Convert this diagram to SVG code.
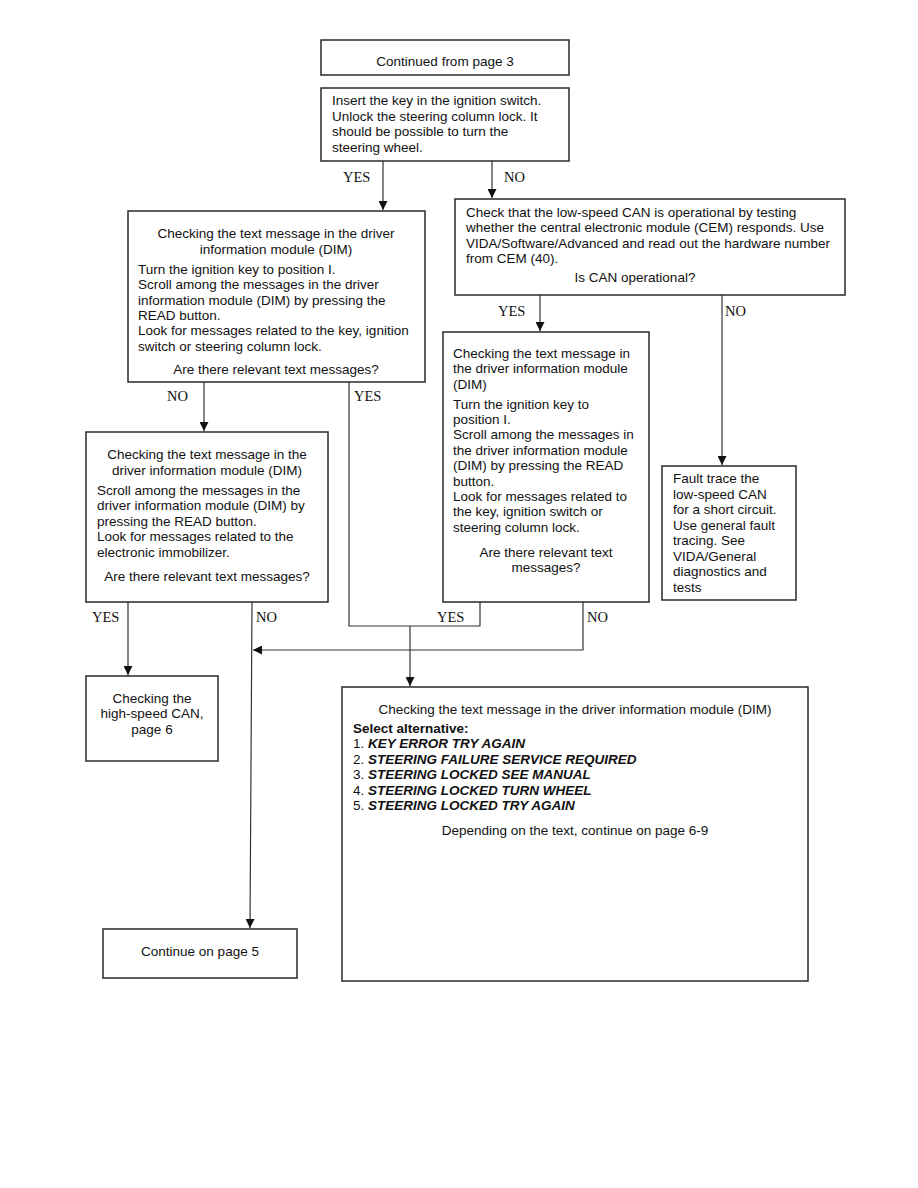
<svg xmlns="http://www.w3.org/2000/svg" width="918" height="1188" viewBox="0 0 918 1188">
<style>
.box{fill:#fff;stroke:#2a2a2a;stroke-width:1.5}
.t{font-family:"Liberation Sans",Arial,sans-serif;font-size:13.5px;fill:#111}
.c{text-anchor:middle}
.lb{font-family:"Liberation Serif","Times New Roman",serif;font-size:14.5px;fill:#111}
.ln{fill:none;stroke:#333;stroke-width:1.2}
.b{font-weight:bold}
.bi{font-weight:bold;font-style:italic}
</style>
<defs>
<marker id="ar" markerUnits="userSpaceOnUse" markerWidth="9" markerHeight="9" refX="9" refY="4.5" orient="auto">
<path d="M0,0 L9,4.5 L0,9 z" fill="#111"/>
</marker>
</defs>
<rect width="918" height="1188" fill="#fff"/>

<g id="connectors">
<line class="ln" x1="383" y1="161" x2="383" y2="210" marker-end="url(#ar)"/>
<line class="ln" x1="492" y1="161" x2="492" y2="198" marker-end="url(#ar)"/>
<line class="ln" x1="540" y1="295" x2="540" y2="331" marker-end="url(#ar)"/>
<line class="ln" x1="722" y1="295" x2="722" y2="465" marker-end="url(#ar)"/>
<line class="ln" x1="204" y1="382" x2="204" y2="431" marker-end="url(#ar)"/>
<polyline class="ln" points="349,382 349,626 480,626 480,602"/>
<line class="ln" x1="410" y1="626" x2="410" y2="686" marker-end="url(#ar)"/>
<polyline class="ln" points="583,602 583,650 253,650" marker-end="url(#ar)"/>
<line class="ln" x1="128" y1="602" x2="128" y2="675" marker-end="url(#ar)"/>
<line class="ln" x1="252" y1="602" x2="250" y2="928" marker-end="url(#ar)"/>
<text class="lb" x="343" y="182">YES</text>
<text class="lb" x="504" y="182">NO</text>
<text class="lb" x="498" y="316">YES</text>
<text class="lb" x="725" y="316">NO</text>
<text class="lb" x="167" y="401">NO</text>
<text class="lb" x="354" y="401">YES</text>
<text class="lb" x="92" y="622">YES</text>
<text class="lb" x="256" y="622">NO</text>
<text class="lb" x="437" y="622">YES</text>
<text class="lb" x="587" y="622">NO</text>
</g>

<g id="n1">
<rect class="box" x="321" y="40" width="248" height="35"/>
<text class="t c" x="445" y="66">Continued from page 3</text>
</g>

<g id="n2">
<rect class="box" x="321" y="88" width="248" height="73"/>
<text class="t" x="332" y="105">Insert the key in the ignition switch.</text>
<text class="t" x="332" y="120.5">Unlock the steering column lock. It</text>
<text class="t" x="332" y="136">should be possible to turn the</text>
<text class="t" x="332" y="151.5">steering wheel.</text>
</g>

<g id="n3">
<rect class="box" x="128" y="211" width="297" height="171"/>
<text class="t c" x="276" y="238">Checking the text message in the driver</text>
<text class="t c" x="276" y="253.5">information module (DIM)</text>
<text class="t" x="138" y="274">Turn the ignition key to position I.</text>
<text class="t" x="138" y="289.3">Scroll among the messages in the driver</text>
<text class="t" x="138" y="304.6">information module (DIM) by pressing the</text>
<text class="t" x="138" y="319.9">READ button.</text>
<text class="t" x="138" y="335.2">Look for messages related to the key, ignition</text>
<text class="t" x="138" y="350.5">switch or steering column lock.</text>
<text class="t c" x="276" y="373.5">Are there relevant text messages?</text>
</g>

<g id="n4">
<rect class="box" x="455" y="199" width="390" height="96"/>
<text class="t" x="466" y="216.5">Check that the low-speed CAN is operational by testing</text>
<text class="t" x="466" y="232">whether the central electronic module (CEM) responds. Use</text>
<text class="t" x="466" y="247.5">VIDA/Software/Advanced and read out the hardware number</text>
<text class="t" x="466" y="263">from CEM (40).</text>
<text class="t c" x="635" y="281.5">Is CAN operational?</text>
</g>

<g id="n5">
<rect class="box" x="443" y="332" width="206" height="270"/>
<text class="t" x="453" y="358">Checking the text message in</text>
<text class="t" x="453" y="373.4">the driver information module</text>
<text class="t" x="453" y="388.8">(DIM)</text>
<text class="t" x="453" y="408.5">Turn the ignition key to</text>
<text class="t" x="453" y="423.9">position I.</text>
<text class="t" x="453" y="439.3">Scroll among the messages in</text>
<text class="t" x="453" y="454.7">the driver information module</text>
<text class="t" x="453" y="470.1">(DIM) by pressing the READ</text>
<text class="t" x="453" y="485.5">button.</text>
<text class="t" x="453" y="500.9">Look for messages related to</text>
<text class="t" x="453" y="516.3">the key, ignition switch or</text>
<text class="t" x="453" y="531.7">steering column lock.</text>
<text class="t c" x="546" y="557">Are there relevant text</text>
<text class="t c" x="546" y="572.4">messages?</text>
</g>

<g id="n6">
<rect class="box" x="662" y="466" width="134" height="134"/>
<text class="t" x="673" y="483">Fault trace the</text>
<text class="t" x="673" y="498.5">low-speed CAN</text>
<text class="t" x="673" y="514">for a short circuit.</text>
<text class="t" x="673" y="529.5">Use general fault</text>
<text class="t" x="673" y="545">tracing. See</text>
<text class="t" x="673" y="560.5">VIDA/General</text>
<text class="t" x="673" y="576">diagnostics and</text>
<text class="t" x="673" y="591.5">tests</text>
</g>

<g id="n7">
<rect class="box" x="86" y="432" width="242" height="170"/>
<text class="t c" x="207" y="459">Checking the text message in the</text>
<text class="t c" x="207" y="474.5">driver information module (DIM)</text>
<text class="t" x="97" y="494.5">Scroll among the messages in the</text>
<text class="t" x="97" y="510">driver information module (DIM) by</text>
<text class="t" x="97" y="525.5">pressing the READ button.</text>
<text class="t" x="97" y="541">Look for messages related to the</text>
<text class="t" x="97" y="556.5">electronic immobilizer.</text>
<text class="t c" x="207" y="580.5">Are there relevant text messages?</text>
</g>

<g id="n8">
<rect class="box" x="86" y="676" width="132" height="85"/>
<text class="t c" x="152" y="702.5">Checking the</text>
<text class="t c" x="152" y="718">high-speed CAN,</text>
<text class="t c" x="152" y="733.5">page 6</text>
</g>

<g id="n9">
<rect class="box" x="103" y="929" width="194" height="49"/>
<text class="t c" x="200" y="956">Continue on page 5</text>
</g>

<g id="n10">
<rect class="box" x="342" y="687" width="466" height="294"/>
<text class="t c" x="575" y="713.5">Checking the text message in the driver information module (DIM)</text>
<text class="t b" x="353" y="732.5">Select alternative:</text>
<text class="t" x="353" y="748">1. <tspan class="bi">KEY ERROR TRY AGAIN</tspan></text>
<text class="t" x="353" y="763.5">2. <tspan class="bi">STEERING FAILURE SERVICE REQUIRED</tspan></text>
<text class="t" x="353" y="779">3. <tspan class="bi">STEERING LOCKED SEE MANUAL</tspan></text>
<text class="t" x="353" y="794.5">4. <tspan class="bi">STEERING LOCKED TURN WHEEL</tspan></text>
<text class="t" x="353" y="810">5. <tspan class="bi">STEERING LOCKED TRY AGAIN</tspan></text>
<text class="t c" x="575" y="834.5">Depending on the text, continue on page 6-9</text>
</g>
</svg>
